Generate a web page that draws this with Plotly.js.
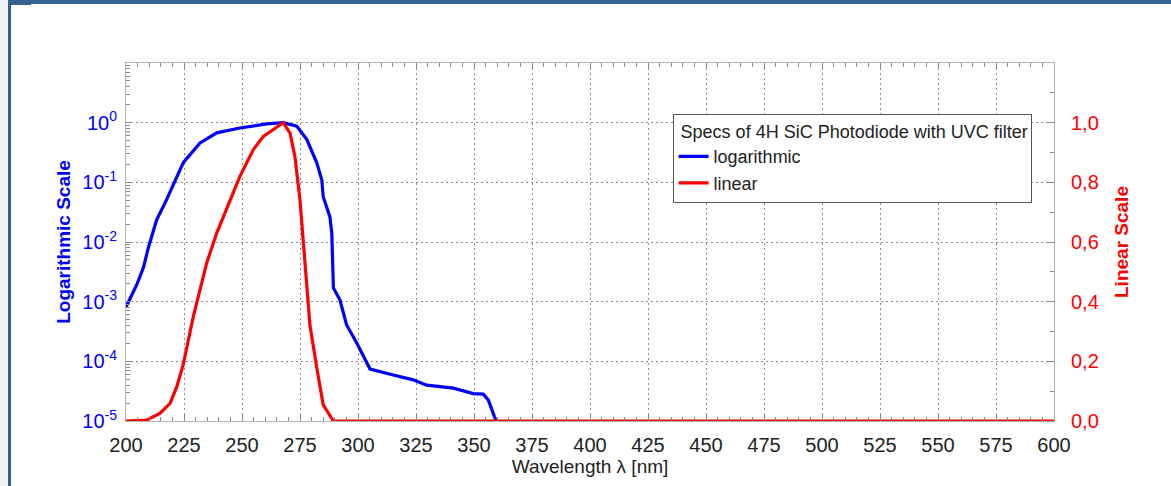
<!DOCTYPE html>
<html>
<head>
<meta charset="utf-8">
<script src="https://cdn.plot.ly/plotly-3.0.1.min.js"></script>
<style>
  html, body { margin:0; padding:0; background:#ffffff; }
  #wrap { position:relative; width:1171px; height:486px; overflow:hidden; background:#ffffff; }
  #chart { position:absolute; left:0; top:0; width:1171px; height:486px; }
  .deco { position:absolute; background:#36608f; }
</style>
</head>
<body>
<div id="wrap">
  <div id="chart"></div>
  <div style="position:absolute;left:0;top:0;width:8px;height:486px;background:#f3f3f3;"></div>
  <div class="deco" style="left:8px;top:0;width:3px;height:486px;"></div>
  <div class="deco" style="left:8px;top:0;width:1163px;height:4px;"></div>
  <div class="deco" style="left:8px;top:0;width:23px;height:5px;"></div>
</div>
<script>
// Logarithmic-scale response (blue)
const logWavelength = [200, 204.6, 207.5, 209.6, 213.2, 217.5, 224.7, 231.9, 239.1, 249.1, 260.6, 267.8,
  273.6, 277.9, 282.2, 284.4, 285.0, 287.9, 288.7, 289.4, 292.2, 295.1, 299.4, 305.2,
  315.2, 323.8, 329.6, 341.1, 349.7, 354.0, 356.2, 359.5];
const logExponent = [-3.09, -2.72, -2.43, -2.10, -1.63, -1.29, -0.67, -0.34, -0.17, -0.09, -0.02, 0.0,
  -0.06, -0.28, -0.67, -0.96, -1.24, -1.58, -1.85, -2.77, -2.97, -3.39, -3.69, -4.13,
  -4.23, -4.31, -4.40, -4.45, -4.54, -4.55, -4.65, -5.0];
const logResponse = logExponent.map(e => Math.pow(10, e));

// Linear-scale response (red)
const linWavelength = [200, 208.9, 214.7, 219.0, 221.9, 224.7, 229.0, 231.9, 234.8, 239.1, 243.4, 249.1,
  254.9, 259.2, 263.5, 267.8, 270.7, 272.8, 275.0, 277.2, 279.3, 282.2, 285.0, 289.4, 600];
const linResponse = [0, 0.003, 0.026, 0.059, 0.115, 0.19, 0.35, 0.44, 0.53, 0.63, 0.71, 0.82,
  0.91, 0.954, 0.977, 1.0, 0.965, 0.887, 0.74, 0.52, 0.32, 0.18, 0.054, 0, 0];

// Tick labels
const xTicks = [200,225,250,275,300,325,350,375,400,425,450,475,500,525,550,575,600];
const logTickVals = [1e-5, 1e-4, 1e-3, 1e-2, 1e-1, 1];
const logTickText = ['10<sup>-5</sup>','10<sup>-4</sup>','10<sup>-3</sup>','10<sup>-2</sup>','10<sup>-1</sup>','10<sup>0</sup>'];
const linTickVals = [0, 0.2, 0.4, 0.6, 0.8, 1.0];
const linTickText = ['0,0','0,2','0,4','0,6','0,8','1,0'];

const FONT = 'Liberation Sans, Arial, sans-serif';
const AXIS_LINE = '#b4b4b4';
const TICK_C = '#8a8a8a';
const GRID_C = '#8c8c8c';
const GRID_DASH = '2px,3px';

const traces = [
  { x: logWavelength, y: logResponse, type: 'scatter', mode: 'lines', name: 'logarithmic',
    line: { color: '#0000ff', width: 3.2 }, yaxis: 'y' },
  { x: linWavelength, y: linResponse, type: 'scatter', mode: 'lines', name: 'linear',
    line: { color: '#ff0000', width: 3.2 }, yaxis: 'y2' }
];

const layout = {
  width: 1171, height: 486,
  margin: { l: 126, r: 117, t: 63, b: 65 },
  paper_bgcolor: 'rgba(0,0,0,0)',
  plot_bgcolor: '#ffffff',
  font: { family: FONT, size: 17, color: '#222222' },
  showlegend: true,
  legend: {
    x: 0.589, y: 0.858, xanchor: 'left', yanchor: 'top',
    bgcolor: '#ffffff', bordercolor: '#555555', borderwidth: 1,
    font: { family: FONT, size: 18, color: '#222222' },
    title: { text: ' Specs of 4H SiC Photodiode with UVC filter', font: { family: FONT, size: 18, color: '#222222' }, side: 'top' },
    tracegroupgap: 0
  },
  xaxis: {
    range: [200, 600], tickmode: 'array', tickvals: xTicks,
    ticks: 'inside', ticklen: 6, tickcolor: TICK_C, tickwidth: 1,
    showline: true, linecolor: AXIS_LINE, linewidth: 1, mirror: 'ticks',
    showgrid: true, gridcolor: GRID_C, griddash: GRID_DASH, gridwidth: 1,
    zeroline: false,
    tickfont: { family: FONT, size: 20, color: '#222222' },
    ticklabelstandoff: 6,
    minor: { dtick: 5, ticks: 'inside', ticklen: 4, tickcolor: TICK_C, showgrid: false },
    title: { text: 'Wavelength λ [nm]', font: { family: FONT, size: 19, color: '#222222' }, standoff: 4 }
  },
  yaxis: {
    type: 'log', range: [-5, 1],
    tickmode: 'array', tickvals: logTickVals, ticktext: logTickText,
    ticks: 'inside', ticklen: 6, tickcolor: TICK_C, tickwidth: 1,
    showline: true, linecolor: AXIS_LINE, linewidth: 1, mirror: false,
    showgrid: true, gridcolor: GRID_C, griddash: GRID_DASH, gridwidth: 1,
    zeroline: false,
    tickfont: { family: FONT, size: 20, color: '#0000ff' },
    ticklabelstandoff: 4,
    minor: { dtick: 'D1', ticks: 'inside', ticklen: 4, tickcolor: TICK_C, showgrid: false },
    title: { text: '<b>Logarithmic Scale</b>', font: { family: FONT, size: 19, color: '#0000ff' }, standoff: 6 }
  },
  yaxis2: {
    overlaying: 'y', side: 'right', anchor: 'x',
    range: [0, 1.2], tickmode: 'array', tickvals: linTickVals, ticktext: linTickText,
    ticks: 'inside', ticklen: 6, tickcolor: TICK_C, tickwidth: 1,
    showline: true, linecolor: AXIS_LINE, linewidth: 1,
    showgrid: false, zeroline: false,
    tickfont: { family: FONT, size: 20, color: '#ff0000' },
    ticklabelstandoff: 12,
    minor: { dtick: 0.1, ticks: 'inside', ticklen: 4, tickcolor: TICK_C, showgrid: false },
    title: { text: '<b>Linear Scale</b>', font: { family: FONT, size: 19, color: '#ff0000' }, standoff: 16 }
  }
};

Plotly.newPlot('chart', traces, layout, { staticPlot: true, displayModeBar: false });
</script>
</body>
</html>
